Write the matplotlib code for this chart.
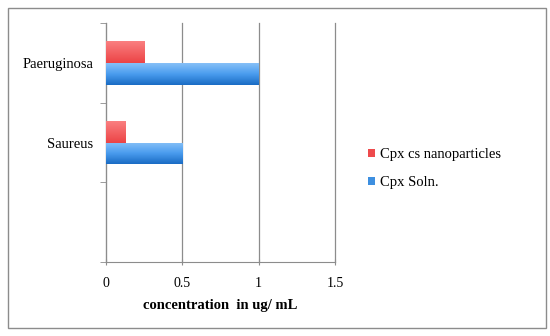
import numpy as np
import matplotlib.pyplot as plt
from matplotlib.patches import Rectangle
from matplotlib.colors import LinearSegmentedColormap

plt.rcParams['font.family'] = ['Liberation Serif', 'DejaVu Serif']

categories = ['', 'Saureus', 'Paeruginosa']
nano = [0, 0.125, 0.25]
soln = [0, 0.5, 1.0]
series_names = ['Cpx cs nanoparticles', 'Cpx Soln.']
xticks = [0, 0.5, 1, 1.5]

fig = plt.figure(figsize=(5.5, 3.36), dpi=100)
ax = fig.add_axes([0.1927, 0.2202, 0.4164, 0.7113])

# outer frame around the whole chart
fig.patches.append(Rectangle((0.015, 0.025), 0.977, 0.952, transform=fig.transFigure,
                             fill=False, edgecolor='#8c8c8c', linewidth=1.0))

pos = np.arange(len(categories))
h = 0.275
b_nano = ax.barh(pos + h / 2, nano, height=h, color='#ee4a4c', label=series_names[0])
b_soln = ax.barh(pos - h / 2, soln, height=h, color='#3d8fe0', label=series_names[1])

# Excel-like vertical gradient in the bars
red_cm = LinearSegmentedColormap.from_list('r', ['#fa7f80', '#ec4446'])
blue_cm = LinearSegmentedColormap.from_list('b', ['#86c0f8', '#4a9cee', '#1a6cc4'])
grad = np.linspace(0, 1, 64).reshape(-1, 1)
for bars, cm in ((b_nano, red_cm), (b_soln, blue_cm)):
    for bar in bars:
        if bar.get_width() <= 0:
            continue
        x0, y0 = bar.get_x(), bar.get_y()
        im = ax.imshow(grad, cmap=cm, aspect='auto', origin='upper',
                       extent=(x0, x0 + bar.get_width(), y0, y0 + bar.get_height()),
                       zorder=3)
        im.set_clip_path(bar)
        bar.set_zorder(2)

ax.set_xlim(0, 1.5)
ax.set_ylim(-0.5, len(categories) - 0.5)
ax.set_xticks(xticks)
ax.set_xticklabels(['0', '0.5', '1', '1.5'], fontsize=10)
ax.set_yticks(pos)
ax.set_yticklabels(categories, fontsize=10.5)
ax.set_yticks(np.arange(len(categories) + 1) - 0.5, minor=True)
ax.tick_params(axis='y', which='major', length=0, pad=9)
ax.tick_params(axis='y', which='minor', length=4, color='#8c8c8c', direction='out')
ax.tick_params(axis='x', length=4, color='#8c8c8c', direction='inout', pad=9)

ax.xaxis.grid(True, color='#8c8c8c', linewidth=0.9)
for gl in ax.get_xgridlines():
    gl.set_clip_on(False)
ax.set_axisbelow(True)
for s in ['top', 'right']:
    ax.spines[s].set_visible(False)
for s in ['left', 'bottom']:
    ax.spines[s].set_color('#8c8c8c')

ax.set_xlabel('concentration  in ug/ mL', fontsize=10.5, fontweight='bold', labelpad=6)

fig.legend(handles=[b_nano, b_soln], labels=series_names, loc='center left',
           bbox_to_anchor=(0.645, 0.498), frameon=False, fontsize=10.5,
           handlelength=0.5, handleheight=0.5, handletextpad=0.3, labelspacing=1.0)

fig.savefig('out.png', dpi=100, facecolor='white')
